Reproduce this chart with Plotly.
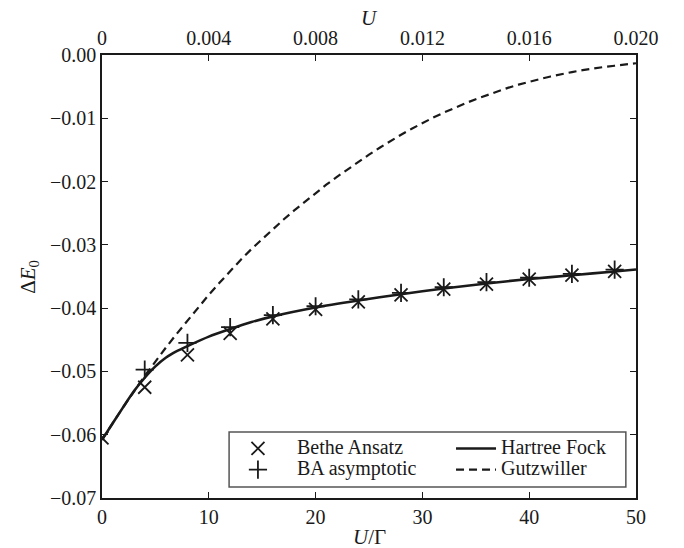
import plotly.graph_objects as go

# Hybridisation width: converts U/Gamma to bare U on the top axis
GAMMA = 0.0004

# Bethe Ansatz ground-state energy shift
ba_x = [0, 4, 8, 12, 16, 20, 24, 28, 32, 36, 40, 44, 48]
ba_y = [-0.0605, -0.0525, -0.0474, -0.0440, -0.0417, -0.0402, -0.0390,
        -0.0379, -0.0370, -0.0362, -0.0354, -0.0348, -0.0342]

# Asymptotic Bethe Ansatz expansion
bas_x = [4, 8, 12, 16, 20, 24, 28, 32, 36, 40, 44, 48]
bas_y = [-0.0497, -0.0455, -0.0430, -0.0411, -0.0397, -0.0386, -0.0376,
         -0.0367, -0.0359, -0.0352, -0.0346, -0.0339]

# Hartree-Fock curve
hf_x = [0, 1, 2, 3, 4, 5, 6, 7, 8, 10, 12, 14, 16, 20, 24, 28, 32, 36, 40, 44, 48, 50]
hf_y = [-0.0608, -0.0582, -0.0556, -0.0531, -0.0510, -0.0492, -0.0478, -0.0468,
        -0.0460, -0.0445, -0.0433, -0.0422, -0.0413, -0.0399, -0.0388, -0.0378,
        -0.0369, -0.0361, -0.0354, -0.0348, -0.0342, -0.0339]

# Gutzwiller curve
gw_x = [0, 2, 4, 5, 6, 7, 8, 9, 10, 11, 12, 13, 14, 15, 16, 17, 18, 19, 20,
        21, 22, 23, 24, 25, 26, 27, 28, 29, 30, 31, 32, 33, 34, 35, 36, 37, 38,
        39, 40, 41, 42, 43, 44, 45, 46, 47, 48, 49, 50]
gw_y = [-0.0608, -0.0556, -0.0507, -0.0484, -0.0462, -0.04405, -0.04195, -0.0399,
        -0.0379, -0.0360, -0.03415, -0.03235, -0.03065, -0.02905, -0.0275, -0.0260,
        -0.02455, -0.02315, -0.0218, -0.0205, -0.01925, -0.01805, -0.01688,
        -0.01575, -0.01465, -0.0136, -0.0126, -0.01165, -0.01075, -0.0099,
        -0.0091, -0.00835, -0.00765, -0.00698, -0.00635, -0.00575, -0.00519,
        -0.00469, -0.0042, -0.0038, -0.0034, -0.0030, -0.0027, -0.0024, -0.0021,
        -0.0019, -0.0017, -0.0015, -0.0013]

# Axis ticks
x_ticks = [0, 10, 20, 30, 40, 50]
y_ticks = [0.0, -0.01, -0.02, -0.03, -0.04, -0.05, -0.06, -0.07]
y_ticktext = ["0.00", "\u22120.01", "\u22120.02", "\u22120.03", "\u22120.04",
              "\u22120.05", "\u22120.06", "\u22120.07"]
u_ticks = [0, 0.004, 0.008, 0.012, 0.016, 0.020]
u_ticktext = ["0", "0.004", "0.008", "0.012", "0.016", "0.020"]

FONT = "Liberation Serif, Times New Roman, serif"
INK = "#1a1a1a"


def legend_label(text):
    # full-size label text while the legend row height follows the smaller base font
    return '<span style="font-size:20px">' + text + "</span>"


fig = go.Figure()

fig.add_trace(go.Scatter(
    x=ba_x, y=ba_y, mode="markers", name=legend_label("Bethe Ansatz"), legend="legend",
    marker=dict(symbol="x-thin", size=13, line=dict(width=1.8, color=INK), color=INK),
))
fig.add_trace(go.Scatter(
    x=bas_x, y=bas_y, mode="markers", name=legend_label("BA asymptotic"), legend="legend",
    marker=dict(symbol="cross-thin", size=13, line=dict(width=1.8, color=INK), color=INK),
))
fig.add_trace(go.Scatter(
    x=hf_x, y=hf_y, mode="lines", name=legend_label("Hartree Fock"), legend="legend2",
    line=dict(color=INK, width=2.6, shape="spline", smoothing=0.6),
))
fig.add_trace(go.Scatter(
    x=gw_x, y=gw_y, mode="lines", name=legend_label("Gutzwiller"), legend="legend2",
    line=dict(color=INK, width=2.2, dash="8px,5px"),
))
# Top axis in bare U units
fig.add_trace(go.Scatter(
    x=[x * GAMMA for x in (x_ticks[0], x_ticks[-1])], y=[None, None],
    xaxis="x2", mode="lines", showlegend=False, hoverinfo="skip",
))

axis_common = dict(
    showgrid=False, zeroline=False, showline=True, linecolor=INK, linewidth=1.5,
    ticks="inside", ticklen=6, tickwidth=1.2, tickcolor=INK,
    tickfont=dict(family=FONT, size=20, color=INK),
)

fig.update_layout(
    width=684, height=548,
    margin=dict(l=102, r=48, t=55, b=50),
    paper_bgcolor="white", plot_bgcolor="white",
    font=dict(family=FONT, size=20, color=INK),
    xaxis=dict(range=[0, 50], tickvals=x_ticks, ticktext=[str(v) for v in x_ticks],
               **axis_common),
    xaxis2=dict(range=[0, 0.02], overlaying="x", side="top", anchor="y",
                tickvals=u_ticks, ticktext=u_ticktext, **axis_common),
    yaxis=dict(range=[-0.07, 0], tickvals=y_ticks, ticktext=y_ticktext,
               mirror="ticks", **axis_common),
    legend=dict(x=0.219, y=0.147, xanchor="left", yanchor="top", itemwidth=68,
                bgcolor="rgba(0,0,0,0)", borderwidth=0, tracegroupgap=0,
                font=dict(family=FONT, size=14, color=INK)),
    legend2=dict(x=0.6536, y=0.147, xanchor="left", yanchor="top", itemwidth=40,
                 bgcolor="rgba(0,0,0,0)", borderwidth=0, tracegroupgap=0,
                 font=dict(family=FONT, size=14, color=INK)),
    shapes=[dict(type="rect", xref="paper", yref="paper",
                 x0=0.238, x1=0.981, y0=0.025, y1=0.149,
                 line=dict(color="#555555", width=1.5))],
    annotations=[
        dict(text="<i>U</i>/\u0393", xref="paper", yref="paper", x=0.5, y=-0.088,
             xanchor="center", yanchor="middle", showarrow=False,
             font=dict(family=FONT, size=21, color=INK)),
        dict(text="<i>U</i>", xref="paper", yref="paper", x=0.5, y=1.083,
             xanchor="center", yanchor="middle", showarrow=False,
             font=dict(family=FONT, size=21, color=INK)),
        dict(text="\u0394<i>E</i><sub>0</sub>", xref="paper", yref="paper",
             x=-0.138, y=0.5, xanchor="center", yanchor="middle", textangle=-90,
             showarrow=False, font=dict(family=FONT, size=21, color=INK)),
    ],
)

fig.write_html("out.html")
